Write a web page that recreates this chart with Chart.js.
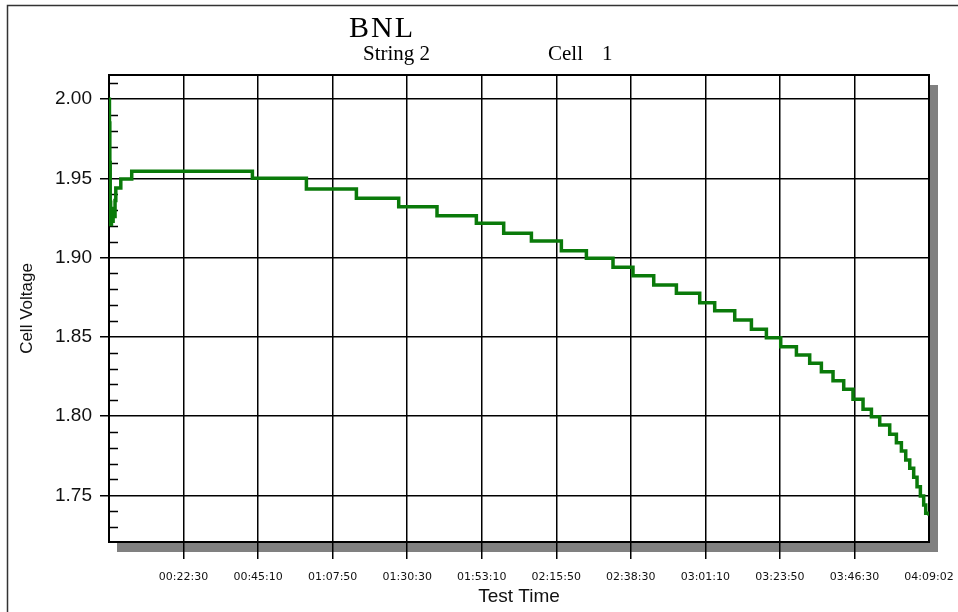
<!DOCTYPE html>
<html>
<head>
<meta charset="utf-8">
<script src="https://cdn.jsdelivr.net/npm/chart.js@4"></script>
<style>
  html, body { margin: 0; padding: 0; background: #fff; }
  #wrap { width: 958px; height: 612px; }
</style>
</head>
<body>
<div id="wrap"><canvas id="chart" width="958" height="612"></canvas></div>
<script>
// elapsed test time in seconds, cell voltage at the start of each step
const T_SEC = [
  0, 8, 15, 22, 30, 45, 60, 75, 90, 110, 124, 215, 414,
  2613, 3597, 4508, 5279, 5977, 6694, 7192, 7697, 8243, 8699,
  9184, 9548, 9926, 10339, 10764, 11037, 11402, 11706, 11979, 12240,
  12526, 12768, 12981, 13193, 13388, 13557, 13740, 13893, 14044, 14226,
  14348, 14439, 14518, 14591, 14663, 14724, 14785, 14845, 14882, 14942,
];
const VOLTS = [
  2.000, 1.985, 1.960, 1.935, 1.921, 1.928, 1.923, 1.931, 1.926, 1.936, 1.944, 1.9497, 1.9545,
  1.9501, 1.9434, 1.9375, 1.9322, 1.9265, 1.9217, 1.9154, 1.9105, 1.9044, 1.8996,
  1.8939, 1.8886, 1.8828, 1.8775, 1.8716, 1.8665, 1.8607, 1.8548, 1.8495, 1.8438,
  1.8386, 1.8333, 1.8280, 1.8223, 1.8169, 1.8106, 1.8043, 1.7996, 1.7944, 1.7885,
  1.7832, 1.7780, 1.7723, 1.7670, 1.7614, 1.7554, 1.7496, 1.7439, 1.7386, 1.7370,
];

const T_MAX = 14942;
const X_LABELS = [
  "", "00:22:30", "00:45:10", "01:07:50", "01:30:30", "01:53:10",
  "02:15:50", "02:38:30", "03:01:10", "03:23:50", "03:46:30", "04:09:02",
];
const Y_TICKS = [1.75, 1.80, 1.85, 1.90, 1.95, 2.00];
const Y_MIN = 1.7205, Y_MAX = 2.0153;

// grey drop shadow + white plot face, drawn under the grid
const plotShadow = {
  id: "plotShadow",
  beforeDraw(chart) {
    const { ctx, chartArea: a } = chart;
    ctx.save();
    ctx.fillStyle = "#fff";
    ctx.fillRect(0, 0, chart.width, chart.height);
    ctx.fillStyle = "#808080";
    ctx.fillRect(a.left + 8, a.top + 10, a.right - a.left + 1, a.bottom - a.top);
    ctx.fillStyle = "#fff";
    ctx.fillRect(a.left, a.top, a.right - a.left, a.bottom - a.top);
    // outer page frame (left and top edges show)
    ctx.strokeStyle = "#333";
    ctx.lineWidth = 1.5;
    ctx.strokeRect(7.5, 5.5, chart.width + 20, chart.height + 20);
    ctx.restore();
  },
  beforeDatasetsDraw(chart) {
    const { ctx, chartArea: a, scales } = chart;
    ctx.save();
    // minor ticks every 0.01 V, inside the left axis
    ctx.strokeStyle = "#000";
    ctx.lineWidth = 1.5;
    for (let k = Math.ceil(Y_MIN * 100); k <= Math.floor(Y_MAX * 100); k++) {
      if (k % 5 === 0) continue;
      const y = Math.round(scales.y.getPixelForValue(k / 100)) + 0.5;
      ctx.beginPath();
      ctx.moveTo(a.left, y);
      ctx.lineTo(a.left + 9, y);
      ctx.stroke();
    }
    ctx.lineWidth = 2;
    ctx.strokeRect(a.left, a.top, a.right - a.left, a.bottom - a.top);
    ctx.restore();
  },
  afterDraw(chart) {
    const { ctx } = chart;
    ctx.save();
    ctx.fillStyle = "#000";
    ctx.textBaseline = "alphabetic";
    ctx.textAlign = "left";
    ctx.font = '30px "Liberation Serif", "Times New Roman", serif';
    ctx.letterSpacing = "2px";
    ctx.fillText("BNL", 349, 37);
    ctx.letterSpacing = "0px";
    ctx.font = '21px "Liberation Serif", "Times New Roman", serif';
    ctx.fillText("String 2", 363, 60);
    ctx.fillText("Cell", 548, 60);
    ctx.fillText("1", 602, 60);
    ctx.restore();
  },
};

new Chart(document.getElementById("chart"), {
  type: "line",
  data: {
    datasets: [
      {
        data: T_SEC.map((t, i) => ({ x: t, y: VOLTS[i] })),
        borderColor: "#0a7a0a",
        borderWidth: 3.5,
        stepped: "before",
        pointRadius: 0,
        fill: false,
      },
    ],
  },
  plugins: [plotShadow],
  options: {
    responsive: false,
    animation: false,
    events: [],
    layout: { padding: { top: 75, right: 29, left: 0, bottom: 0 } },
    plugins: { legend: { display: false }, tooltip: { enabled: false } },
    scales: {
      x: {
        type: "linear",
        min: 0,
        max: T_MAX,
        afterFit: (s) => {
          s.height = 70;
          s.paddingLeft = 0;
          s.paddingRight = 0;
        },
        afterBuildTicks: (s) => {
          s.ticks = X_LABELS.map((_, i) => ({ value: (i * T_MAX) / (X_LABELS.length - 1) }));
        },
        border: { display: false },
        grid: {
          color: (c) => (c.index === 0 || c.index === X_LABELS.length - 1 ? "rgba(0,0,0,0)" : "#000"),
          lineWidth: 1.5,
          tickLength: 17,
        },
        ticks: {
          callback: (v, i) => X_LABELS[i],
          color: "#111",
          font: { family: '"DejaVu Sans", sans-serif', size: 11 },
          padding: 12,
          maxRotation: 0,
          autoSkip: false,
        },
        title: {
          display: true,
          text: "Test Time",
          color: "#111",
          font: { family: '"Liberation Sans", Arial, sans-serif', size: 19 },
          padding: { top: 0, bottom: 4 },
        },
      },
      y: {
        min: Y_MIN,
        max: Y_MAX,
        afterFit: (s) => { s.width = 109; },
        afterBuildTicks: (s) => { s.ticks = Y_TICKS.map((v) => ({ value: v })); },
        border: { display: false },
        grid: { color: "#000", lineWidth: 1.5, tickLength: 9 },
        ticks: {
          callback: (v) => v.toFixed(2),
          color: "#111",
          font: { family: '"Liberation Sans", Arial, sans-serif', size: 19 },
          padding: 8,
        },
        title: {
          display: true,
          text: "Cell Voltage",
          color: "#111",
          font: { family: '"Liberation Sans", Arial, sans-serif', size: 17 },
          padding: { top: 17, bottom: 0 },
        },
      },
    },
  },
});
</script>
</body>
</html>
